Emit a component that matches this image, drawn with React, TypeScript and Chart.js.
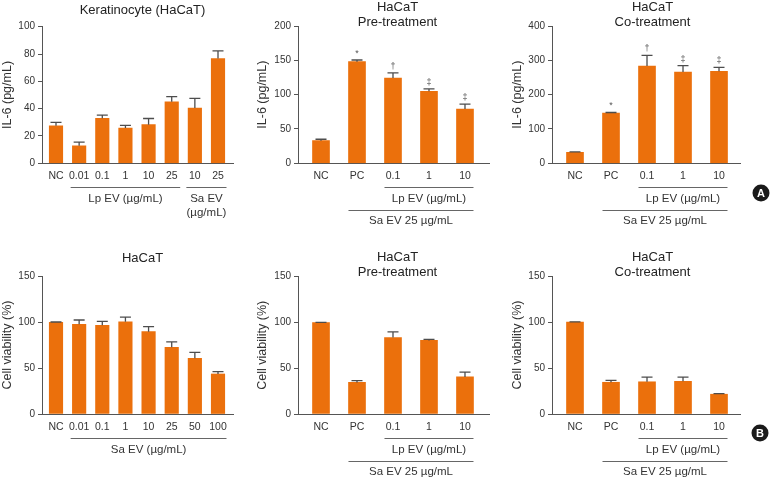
import React, { useEffect, useRef } from 'react';
import { Chart, registerables } from 'chart.js';

Chart.register(...registerables);

const BAR_COLOR = '#EB700C';
const AXIS_COLOR = '#555555';
const TEXT_COLOR = '#333333';
const ERR_COLOR = '#4d4d4d';
const FONT = '"Liberation Sans", Arial, Helvetica, sans-serif';

// ---- Data ----
const keraLabels = ['NC', '0.01', '0.1', '1', '10', '25', '10', '25'];
const keraIL6 = [27.5, 12.8, 33, 25.8, 28.3, 45, 40.5, 76.7];
const keraIL6Err = [2.5, 2.7, 2.3, 2, 4.5, 3.8, 7, 5.6];

const treatLabels = ['NC', 'PC', '0.1', '1', '10'];
const treatMarks = ['', '*', '†', '‡', '‡'];

const preIL6 = [33, 148, 124.3, 105, 79];
const preIL6Err = [2, 2.5, 7.3, 3.4, 7.3];

const coIL6 = [32, 146, 283.5, 266, 268];
const coIL6Err = [1.5, 2, 31, 18.5, 11.6];

const viabLabels = ['NC', '0.01', '0.1', '1', '10', '25', '50', '100'];
const viabSa = [99.6, 97.5, 96.4, 100.2, 89.5, 72.5, 60.5, 43.5];
const viabSaErr = [0.4, 4.7, 4.3, 5.2, 5.4, 5.8, 6.5, 2.5];

const viabPre = [99.6, 34.5, 83.5, 80.3, 40.5];
const viabPreErr = [0.4, 2, 6, 1.2, 5.2];

const viabCo = [99.8, 34.5, 35, 35.5, 21.5];
const viabCoErr = [0.4, 2, 5, 4.5, 0.7];

const keraGroups = [
  { from: 1, to: 5, row: 0, lines: ['Lp EV (µg/mL)'] },
  { from: 6, to: 7, row: 0, lines: ['Sa EV', '(µg/mL)'] },
];
const treatGroups = [
  { from: 2, to: 4, row: 0, lines: ['Lp EV (µg/mL)'] },
  { from: 1, to: 4, row: 1, lines: ['Sa EV 25 µg/mL'] },
];
const viabGroups = [{ from: 1, to: 7, row: 0, lines: ['Sa EV (µg/mL)'] }];

type Group = { from: number; to: number; row: number; lines: string[] };
type Panel = {
  left: number;
  top: number;
  width: number;
  height: number;
  yWidth: number;
  padRight: number;
  padTop: number;
  xHeight: number;
  xMin: number;
  xMax: number;
  barWidth: number;
  labels: string[];
  values: number[];
  errors: number[];
  marks: string[];
  yMax: number;
  yStep: number;
  yTitle: string;
  title: string[];
  titleY: number[];
  groups: Group[];
  badge?: { text: string; x: number; y: number };
};

const panels: Panel[] = [
  {
    left: 0, top: 0, width: 255, height: 240, yWidth: 42, padRight: 22, padTop: 26.7, xHeight: 76.7,
    xMin: -0.605, xMax: 7.648, barWidth: 13.5,
    labels: keraLabels, values: keraIL6, errors: keraIL6Err, marks: [],
    yMax: 100, yStep: 20, yTitle: 'IL-6 (pg/mL)',
    title: ['Keratinocyte (HaCaT)'], titleY: [10], groups: keraGroups,
  },
  {
    left: 255, top: 0, width: 255, height: 240, yWidth: 43, padRight: 21, padTop: 26, xHeight: 76.7,
    xMin: -0.639, xMax: 4.667, barWidth: 17,
    labels: treatLabels, values: preIL6, errors: preIL6Err, marks: treatMarks,
    yMax: 200, yStep: 50, yTitle: 'IL-6 (pg/mL)',
    title: ['HaCaT', 'Pre-treatment'], titleY: [7.5, 22], groups: treatGroups,
  },
  {
    left: 510, top: 0, width: 260, height: 240, yWidth: 42, padRight: 30, padTop: 26, xHeight: 76.7,
    xMin: -0.639, xMax: 4.583, barWidth: 17,
    labels: treatLabels, values: coIL6, errors: coIL6Err, marks: treatMarks,
    yMax: 400, yStep: 100, yTitle: 'IL-6 (pg/mL)',
    title: ['HaCaT', 'Co-treatment'], titleY: [7.5, 22], groups: treatGroups,
    badge: { text: 'A', x: 251, y: 193 },
  },
  {
    left: 0, top: 240, width: 255, height: 239, yWidth: 42, padRight: 22, padTop: 36, xHeight: 65,
    xMin: -0.605, xMax: 7.648, barWidth: 13.5,
    labels: viabLabels, values: viabSa, errors: viabSaErr, marks: [],
    yMax: 150, yStep: 50, yTitle: 'Cell viability (%)',
    title: ['HaCaT'], titleY: [18], groups: viabGroups,
  },
  {
    left: 255, top: 240, width: 255, height: 239, yWidth: 43, padRight: 21, padTop: 36.5, xHeight: 65,
    xMin: -0.639, xMax: 4.667, barWidth: 17,
    labels: treatLabels, values: viabPre, errors: viabPreErr, marks: [],
    yMax: 150, yStep: 50, yTitle: 'Cell viability (%)',
    title: ['HaCaT', 'Pre-treatment'], titleY: [17, 32.5], groups: treatGroups,
  },
  {
    left: 510, top: 240, width: 260, height: 239, yWidth: 42, padRight: 30, padTop: 36, xHeight: 65,
    xMin: -0.639, xMax: 4.583, barWidth: 17,
    labels: treatLabels, values: viabCo, errors: viabCoErr, marks: [],
    yMax: 150, yStep: 50, yTitle: 'Cell viability (%)',
    title: ['HaCaT', 'Co-treatment'], titleY: [17, 32.5], groups: treatGroups,
    badge: { text: 'B', x: 250, y: 193 },
  },
];

function makeOverlay(p: Panel) {
  return {
    id: 'overlay',
    afterDatasetsDraw(chart: any) {
      const ctx: CanvasRenderingContext2D = chart.ctx;
      const xs = chart.scales.x;
      const ys = chart.scales.y;
      const area = chart.chartArea;
      ctx.save();
      // error bars
      ctx.strokeStyle = ERR_COLOR;
      ctx.lineWidth = 1.3;
      const cap = 5.5;
      p.values.forEach((v, i) => {
        const px = xs.getPixelForValue(i);
        const y0 = ys.getPixelForValue(v);
        const y1 = ys.getPixelForValue(v + p.errors[i]);
        ctx.beginPath();
        ctx.moveTo(px, y0);
        ctx.lineTo(px, y1);
        ctx.moveTo(px - cap, y1);
        ctx.lineTo(px + cap, y1);
        ctx.stroke();
        const m = p.marks[i];
        if (m) {
          ctx.fillStyle = '#555555';
          ctx.font = `9px ${FONT}`;
          ctx.textAlign = 'center';
          ctx.textBaseline = 'bottom';
          ctx.fillText(m, px, y1 - 2);
        }
      });
      // titles
      ctx.fillStyle = '#222222';
      ctx.font = `13px ${FONT}`;
      ctx.textAlign = 'center';
      ctx.textBaseline = 'middle';
      p.title.forEach((t, i) => ctx.fillText(t, 142.5, p.titleY[i]));
      // group brackets
      const bottom = area.bottom;
      ctx.strokeStyle = '#666666';
      ctx.lineWidth = 1;
      ctx.fillStyle = TEXT_COLOR;
      ctx.font = `11.5px ${FONT}`;
      p.groups.forEach((g) => {
        const x0 = xs.getPixelForValue(g.from) - 8.5;
        const x1 = xs.getPixelForValue(g.to) + 8.5;
        const ly = Math.round(bottom + 23.5 + g.row * 23) + 0.5;
        ctx.beginPath();
        ctx.moveTo(x0, ly);
        ctx.lineTo(x1, ly);
        ctx.stroke();
        g.lines.forEach((t, k) => {
          ctx.fillText(t, (x0 + x1) / 2, bottom + 36 + g.row * 22 + k * 14);
        });
      });
      // badge
      if (p.badge) {
        ctx.fillStyle = '#1a1a1a';
        ctx.beginPath();
        ctx.arc(p.badge.x, p.badge.y, 8.5, 0, Math.PI * 2);
        ctx.fill();
        ctx.fillStyle = '#ffffff';
        ctx.font = `bold 11px ${FONT}`;
        ctx.fillText(p.badge.text, p.badge.x, p.badge.y + 0.5);
      }
      ctx.restore();
    },
  };
}

function BarPanel({ p }: { p: Panel }) {
  const ref = useRef<HTMLCanvasElement | null>(null);
  useEffect(() => {
    if (!ref.current) return;
    const chart = new Chart(ref.current, {
      type: 'bar',
      data: {
        datasets: [
          {
            data: p.values.map((v, i) => ({ x: i, y: v })),
            backgroundColor: BAR_COLOR,
            borderWidth: 0,
            barThickness: p.barWidth,
          },
        ],
      },
      options: {
        animation: false,
        responsive: false,
        events: [],
        layout: { padding: { left: 0, right: p.padRight, top: p.padTop, bottom: 0 } },
        plugins: { legend: { display: false }, tooltip: { enabled: false }, title: { display: false } },
        scales: {
          x: {
            type: 'linear',
            offset: false,
            min: p.xMin,
            max: p.xMax,
            afterBuildTicks: (s: any) => {
              s.ticks = p.labels.map((_, i) => ({ value: i }));
            },
            afterFit: (s: any) => {
              s.height = p.xHeight;
            },
            ticks: {
              autoSkip: false,
              maxRotation: 0,
              padding: 7,
              color: TEXT_COLOR,
              font: { size: 10.5, family: FONT },
              callback: (_v: any, i: number) => p.labels[i],
            },
            grid: { display: false, drawTicks: false, offset: false },
            border: { display: true, color: AXIS_COLOR, width: 1 },
          },
          y: {
            min: 0,
            max: p.yMax,
            afterFit: (s: any) => {
              s.width = p.yWidth;
            },
            ticks: {
              stepSize: p.yStep,
              padding: 3,
              color: TEXT_COLOR,
              font: { size: 10, family: FONT },
            },
            grid: { drawOnChartArea: false, drawTicks: true, tickLength: 4, color: AXIS_COLOR },
            border: { display: true, color: AXIS_COLOR, width: 1 },
            title: {
              display: true,
              text: p.yTitle,
              color: TEXT_COLOR,
              font: { size: 12.5, family: FONT },
              padding: { top: 0.5, bottom: 0 },
            },
          },
        },
      } as any,
      plugins: [makeOverlay(p)],
    });
    return () => chart.destroy();
  }, [p]);
  return (
    <div style={{ position: 'absolute', left: p.left, top: p.top, width: p.width, height: p.height }}>
      <canvas ref={ref} width={p.width} height={p.height} style={{ display: 'block' }} />
    </div>
  );
}

export default function App() {
  return (
    <div style={{ position: 'absolute', left: 0, top: 0, width: 770, height: 479, background: '#ffffff' }}>
      {panels.map((p, i) => (
        <BarPanel key={i} p={p} />
      ))}
    </div>
  );
}
